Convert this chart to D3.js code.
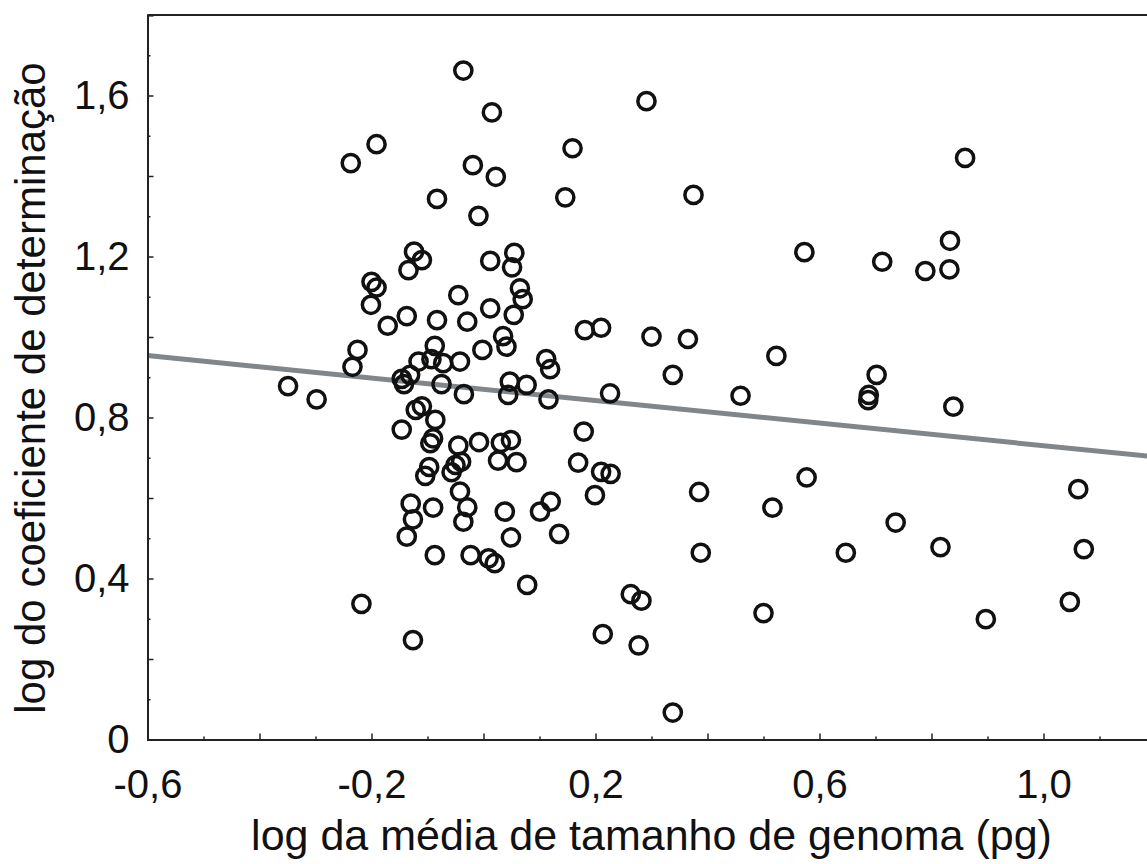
<!DOCTYPE html>
<html>

<head>
    <meta charset="utf-8">
    <title>
        Genoma vs coeficiente
    </title>
    <script src="https://cdn.jsdelivr.net/npm/d3@7"></script>
    <style>
        body { margin: 0; background: #fff; }
        svg { display: block; }
    </style>
</head>

<body>
    <svg></svg>
    <script>
        const width = 1147;
        const height = 864;
        const padding = { top: 15, left: 147.5 };

        // log da média de tamanho de genoma (pg)
        const genomeSize = [
            -0.036, 0.015, -0.191, -0.237, -0.019, 0.022, -0.083, -0.009, -0.124, -0.110,
            -0.134, 0.012, 0.055, 0.051, -0.200, -0.191, -0.201, -0.045, 0.065, 0.070,
            0.012, 0.054, -0.137, -0.171, -0.083, -0.029, 0.035, 0.041, -0.002, -0.087,
            -0.225, -0.234, -0.116, -0.093, -0.072, -0.042, -0.349, -0.298, -0.146, -0.131,
            -0.142, -0.075, -0.035, 0.047, 0.077, 0.044, -0.110, -0.121, -0.086, -0.146,
            -0.090, -0.095, -0.045, -0.008, 0.031, 0.049, 0.026, 0.059, -0.097, -0.050,
            -0.040, -0.057, -0.104, -0.042, -0.029, -0.036, -0.130, -0.126, -0.137, -0.090,
            0.038, 0.101, 0.120, 0.049, 0.135, -0.087, -0.023, 0.009, 0.020, 0.078,
            -0.218, -0.126, 0.291, 0.159, 0.146, 0.375, 0.573, 0.181, 0.210, 0.300,
            0.365, 0.523, 0.112, 0.119, 0.338, 0.116, 0.226, 0.459, 0.179, 0.169,
            0.210, 0.227, 0.577, 0.199, 0.385, 0.388, 0.263, 0.282, 0.213, 0.277,
            0.338, 0.860, 0.712, 0.833, 0.789, 0.832, 0.702, 0.688, 0.687, 0.839,
            0.516, 0.736, 0.647, 0.816, 1.062, 1.072, 0.500, 0.897, 1.047
        ];

        // log do coeficiente de determinação
        const determination = [
            1.662, 1.558, 1.479, 1.432, 1.427, 1.398, 1.343, 1.301, 1.212, 1.191,
            1.166, 1.189, 1.209, 1.173, 1.137, 1.123, 1.080, 1.104, 1.121, 1.094,
            1.071, 1.055, 1.052, 1.028, 1.042, 1.038, 1.002, 0.976, 0.968, 0.978,
            0.968, 0.926, 0.939, 0.945, 0.935, 0.939, 0.878, 0.845, 0.896, 0.906,
            0.883, 0.883, 0.858, 0.889, 0.881, 0.856, 0.828, 0.819, 0.794, 0.770,
            0.748, 0.736, 0.730, 0.739, 0.737, 0.744, 0.693, 0.689, 0.677, 0.682,
            0.690, 0.664, 0.655, 0.616, 0.577, 0.541, 0.586, 0.547, 0.504, 0.576,
            0.566, 0.566, 0.591, 0.502, 0.511, 0.458, 0.458, 0.450, 0.438, 0.384,
            0.337, 0.247, 1.586, 1.469, 1.347, 1.353, 1.211, 1.017, 1.023, 1.001,
            0.995, 0.953, 0.945, 0.920, 0.906, 0.845, 0.860, 0.854, 0.765, 0.688,
            0.665, 0.660, 0.651, 0.607, 0.615, 0.464, 0.361, 0.345, 0.262, 0.234,
            0.067, 1.445, 1.187, 1.239, 1.164, 1.168, 0.906, 0.856, 0.843, 0.827,
            0.576, 0.539, 0.464, 0.478, 0.622, 0.473, 0.314, 0.299, 0.342
        ];

        // linha de regressão
        const regIntercept = 0.870;
        const regSlope = -0.14;

        const xDomain = [-0.6, 1.2];
        const yDomain = [0, 1.8];
        const xTicks = d3.range(-6, 13).map((i) => i / 10);
        const yTicks = d3.range(0, 19).map((i) => i / 10);
        const xLabels = [-0.6, -0.2, 0.2, 0.6, 1.0];
        const yLabels = [0, 0.4, 0.8, 1.2, 1.6];

        const font = "'Liberation Sans', Arial, sans-serif";
        const fmt = (v) => v === 0 ? "0" : v.toFixed(1).replace(".", ",");
        const near = (a, b) => Math.abs(a - b) < 1e-6;

        let svg = d3.select("svg")
            .attr("width", width)
            .attr("height", height);

        let xScale = d3.scaleLinear()
            .domain(xDomain)
            .range([0, 1008]);

        let yScale = d3.scaleLinear()
            .domain(yDomain)
            .range([724.5, 0]);

        let g = svg.append("g")
            .attr("transform", "translate(" + padding.left + "," + padding.top + ")");

        // regressão
        let line = d3.line()
            .x((d) => xScale(d))
            .y((d) => yScale(regIntercept + regSlope * d));

        g.append("path")
            .attr("d", line(xDomain))
            .attr("fill", "none")
            .attr("stroke", "#80868a")
            .attr("stroke-width", 5);

        // pontos
        g.selectAll("circle")
            .data(genomeSize.map((x, i) => [x, determination[i]]))
            .enter()
            .append("circle")
            .attr("cx", (d) => xScale(d[0]))
            .attr("cy", (d) => yScale(d[1]))
            .attr("r", 8.6)
            .attr("fill", "none")
            .attr("stroke", "#111")
            .attr("stroke-width", 3.5);

        // moldura superior
        g.append("line")
            .attr("x1", 0).attr("x2", 1008)
            .attr("y1", 0).attr("y2", 0)
            .attr("stroke", "#222")
            .attr("stroke-width", 2);

        let xAxis = d3.axisBottom(xScale)
            .tickValues(xTicks)
            .tickSize(-6)
            .tickPadding(30)
            .tickFormat((d) => xLabels.some((v) => near(v, d)) ? fmt(d) : "");

        let yAxis = d3.axisLeft(yScale)
            .tickValues(yTicks)
            .tickSize(-6)
            .tickPadding(18)
            .tickFormat((d) => yLabels.some((v) => near(v, d)) ? fmt(d) : "");

        let gx = g.append("g")
            .attr("transform", "translate(0,724.5)")
            .call(xAxis);
        gx.selectAll(".tick line")
            .attr("y2", (d) => Math.round(d * 10) % 2 === 0 ? -6 : -3);

        let gy = g.append("g")
            .call(yAxis);
        gy.selectAll(".tick line")
            .attr("x2", (d) => Math.round(d * 10) % 2 === 0 ? 6 : 3);

        [gx, gy].forEach((a) => {
            a.select(".domain").attr("stroke", "#222").attr("stroke-width", 2);
            a.selectAll(".tick line").attr("stroke", "#222").attr("stroke-width", 1.5);
            a.selectAll(".tick text")
                .attr("fill", "#111")
                .style("font-family", font)
                .style("font-size", "40px");
        });

        // títulos
        svg.append("text")
            .attr("x", padding.left + xScale(0.3))
            .attr("y", 850)
            .attr("text-anchor", "middle")
            .attr("fill", "#111")
            .style("font-family", font)
            .style("font-size", "43px")
            .text("log da média de tamanho de genoma (pg)");

        svg.append("text")
            .attr("transform", "translate(45,388) rotate(-90)")
            .attr("text-anchor", "middle")
            .attr("fill", "#111")
            .style("font-family", font)
            .style("font-size", "42px")
            .text("log do coeficiente de determinação");
    </script>
</body>

</html>
